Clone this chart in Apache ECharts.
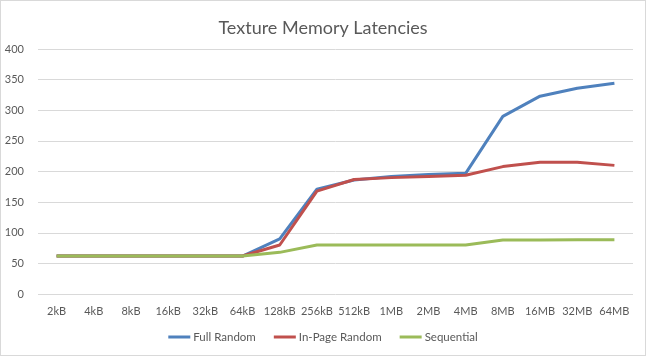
<!DOCTYPE html>
<html><head><meta charset="utf-8">
<script src="https://cdn.jsdelivr.net/npm/echarts@6/dist/echarts.min.js"></script>
<style>html,body{margin:0;padding:0;background:#fff}#c{width:646px;height:356px;box-sizing:border-box;border:1px solid #d9d9d9}</style>
</head><body><div id="c"></div>
<script>
const categories = ['2kB','4kB','8kB','16kB','32kB','64kB','128kB','256kB','512kB','1MB','2MB','4MB','8MB','16MB','32MB','64MB'];
const fullRandom = [62,62,62,62,62,62,90,171,186,192,195,197,290,323,336,344];
const inPageRandom = [62,62,62,62,62,62,80,168,187,190,192,194,208,215,215,210];
const sequential = [62,62,62,62,62,62,68,80,80,80,80,80,88,88,88.5,88.5];
const F = 'Lato, "Open Sans", sans-serif';
const chart = echarts.init(document.getElementById('c'));
const mk = (name, data, color) => ({name, type:'line', data, symbol:'none', smooth:false,
  lineStyle:{width:3, color}, itemStyle:{color}});
chart.setOption({
  animation:false,
  title:{text:'Texture Memory Latencies', left:'center', top:13,
    textStyle:{fontFamily:F, fontSize:18, fontWeight:'normal', color:'#595959'}},
  grid:{left:37, right:12, top:48, bottom:61},
  legend:{bottom:7, left:'center', itemWidth:22, itemHeight:3, itemGap:18, icon:'rect',
    textStyle:{fontFamily:F, fontSize:11.5, color:'#595959', padding:[0,0,0,-2]}},
  xAxis:{type:'category', data:categories, boundaryGap:true,
    axisLine:{show:false}, axisTick:{show:false},
    axisLabel:{fontFamily:F, fontSize:11, color:'#595959', margin:12, interval:0}},
  yAxis:{type:'value', min:0, max:400, interval:50,
    axisLine:{show:false}, axisTick:{show:false},
    axisLabel:{fontFamily:F, fontSize:11, color:'#595959', margin:14},
    splitLine:{lineStyle:{color:'#d9d9d9', width:1}}},
  series:[mk('Full Random', fullRandom, '#4F81BD'), mk('In-Page Random', inPageRandom, '#C0504D'), mk('Sequential', sequential, '#9BBB59')]
});
</script></body></html>
